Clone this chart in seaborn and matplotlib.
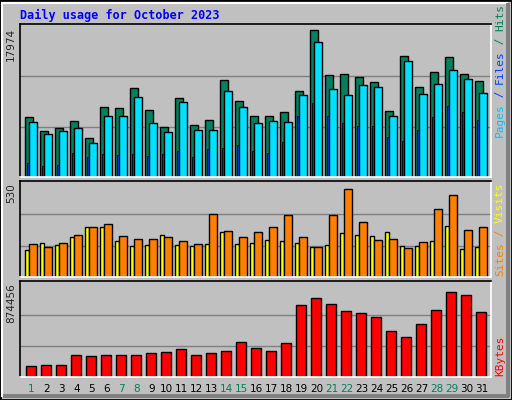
import numpy as np
import matplotlib
matplotlib.use("Agg")
import matplotlib.pyplot as plt
import seaborn as sns
from matplotlib.patches import Rectangle

# --- data ---
days = list(range(1, 32))
weekend = [1, 7, 8, 14, 15, 21, 22, 28, 29]
hits = [7150, 5490, 5846, 6676, 4661, 8335, 8217, 10587, 7980, 5965, 9402, 6202, 6795, 11535, 9046,
        7269, 7269, 7743, 10231, 17460, 12128, 12246, 11891, 11298, 7861, 14379, 10705, 12483, 14261, 12246, 11417]
files = [6558, 5135, 5490, 5846, 4069, 7269, 7269, 9520, 6439, 5372, 8928, 5609, 5609, 10231, 8335,
         6439, 6676, 6558, 9757, 16038, 10468, 9757, 10942, 10705, 7269, 13787, 9876, 11061, 12720, 11654, 9994]
pages = [1699, 1343, 1462, 2884, 2410, 2765, 2647, 2765, 2528, 2765, 3121, 2410, 3358, 3476, 3832,
         3121, 2884, 4187, 7269, 8809, 7269, 6439, 6083, 6083, 4780, 4306, 5609, 7150, 8454, 7743, 6795]
sites = [150, 193, 182, 225, 284, 284, 203, 177, 182, 236, 182, 177, 187, 252, 187,
         193, 209, 203, 193, 171, 182, 246, 236, 230, 252, 177, 177, 203, 289, 155, 171]
visits = [187, 171, 193, 236, 284, 300, 230, 214, 214, 225, 203, 187, 353, 257, 225,
          252, 284, 348, 225, 171, 348, 493, 311, 209, 214, 166, 198, 385, 460, 262, 284]
kbytes = [100000, 109000, 109000, 206000, 197000, 206000, 206000, 206000, 224000, 233000, 268000, 206000,
          224000, 250000, 330000, 277000, 250000, 321000, 683000, 745000, 692000, 621000, 604000, 568000,
          436000, 383000, 498000, 639000, 807000, 780000, 612000]
max_hits, max_sites, max_kbytes = 17974, 530, 874456

sns.set_style("white")
plt.rcParams["font.family"] = ["DejaVu Sans Mono"]
BG = "#C0C0C0"

W, H = 512, 400
fig = plt.figure(figsize=(W / 100, H / 100), dpi=100, facecolor=BG)

# bevelled frame
fig.patches.append(Rectangle((0, 0), 1, 1, transform=fig.transFigure, fill=False, ec="black", lw=2))
fig.patches.append(Rectangle((2 / W, 4 / H), 1 - 7 / W, 1 - 7 / H, transform=fig.transFigure,
                             fill=False, ec="white", lw=1.5))
fig.patches.append(Rectangle((W - 6, 3), 4, H - 6, transform=None, fc="#808080", ec="none"))
fig.patches.append(Rectangle((3, 2), W - 6, 4, transform=None, fc="#808080", ec="none"))


def panel(top, bottom):
    ax = fig.add_axes([20 / W, 1 - bottom / H, 471 / W, (bottom - top) / H])
    ax.set_facecolor(BG)
    ax.set_xlim(0, 31.4)
    for s in ["top", "left"]:
        ax.spines[s].set_color("black")
    for s in ["bottom", "right"]:
        ax.spines[s].set_color("white")
    for s in ax.spines.values():
        s.set_linewidth(1.2)
    ax.set_xticks([])
    ax.set_yticks([])
    return ax


x = np.arange(31)

ax1 = panel(24, 177)
ax1.set_ylim(0, max_hits * 1.01)
for g in (max_hits / 3, max_hits * 2 / 3):
    ax1.axhline(g, color="#808080", lw=1, zorder=0)
ax1.bar(x + 0.355, hits, width=0.49, align="edge", color="#00805C", ec="black", lw=1)
ax1.bar(x + 0.45, pages, width=0.2, align="edge", color="#0040FF", ec="black", lw=0.6)
ax1.bar(x + 0.6, files, width=0.51, align="edge", color="#00E0FF", ec="black", lw=1)

ax2 = panel(181, 277)
ax2.set_ylim(0, max_sites * 1.02)
for g in (max_sites / 3, max_sites * 2 / 3):
    ax2.axhline(g, color="#808080", lw=1, zorder=0)
ax2.bar(x + 0.355, sites, width=0.27, align="edge", color="#FFFF00", ec="black", lw=1)
ax2.bar(x + 0.62, visits, width=0.49, align="edge", color="#FF8000", ec="black", lw=1)

ax3 = panel(281, 377)
ax3.set_ylim(0, max_kbytes * 1.04)
for g in (max_kbytes / 3, max_kbytes * 2 / 3):
    ax3.axhline(g, color="#808080", lw=1, zorder=0)
ax3.bar(x + 0.42, kbytes, width=0.67, align="edge", color="#FF0000", ec="black", lw=1)

# day labels
for i, d in enumerate(days):
    fig.text((20 + (i + 0.76) * 15) / W, 1 - 389 / H, str(d), ha="center", va="center", fontsize=7.5,
             color="#00805C" if d in weekend else "black", family="DejaVu Sans")

# left max labels
fig.text(11 / W, 1 - 28 / H, str(max_hits), rotation=90, ha="center", va="top", fontsize=7.5, family="DejaVu Sans")
fig.text(11 / W, 1 - 183 / H, str(max_sites), rotation=90, ha="center", va="top", fontsize=7.5, family="DejaVu Sans")
fig.text(11 / W, 1 - 283 / H, str(max_kbytes), rotation=90, ha="center", va="top", fontsize=7.5, family="DejaVu Sans")


# right series labels (bottom to top)
def vlabel(parts, y_bottom):
    y = y_bottom
    for txt, col in parts:
        fig.text(500 / W, 1 - y / H, txt, rotation=90, ha="center", va="bottom", fontsize=8, color=col)
        y -= len(txt) * 6.6


vlabel([("Pages", "#00C0FF"), (" / ", "#0040FF"), ("Files", "#0040FF"), (" / ", "#00805C"), ("Hits", "#00805C")], 137)
vlabel([("Sites", "#FF8000"), (" / ", "#FF8000"), ("Visits", "#FFFF00")], 276)
vlabel([("KBytes", "#FF0000")], 376)

fig.text(20 / W, 1 - 15 / H, "Daily usage for October 2023", color="#0000FF", fontsize=8.5,
         fontweight="bold", va="center", ha="left")

fig.savefig("out.png", dpi=100, facecolor=BG)
